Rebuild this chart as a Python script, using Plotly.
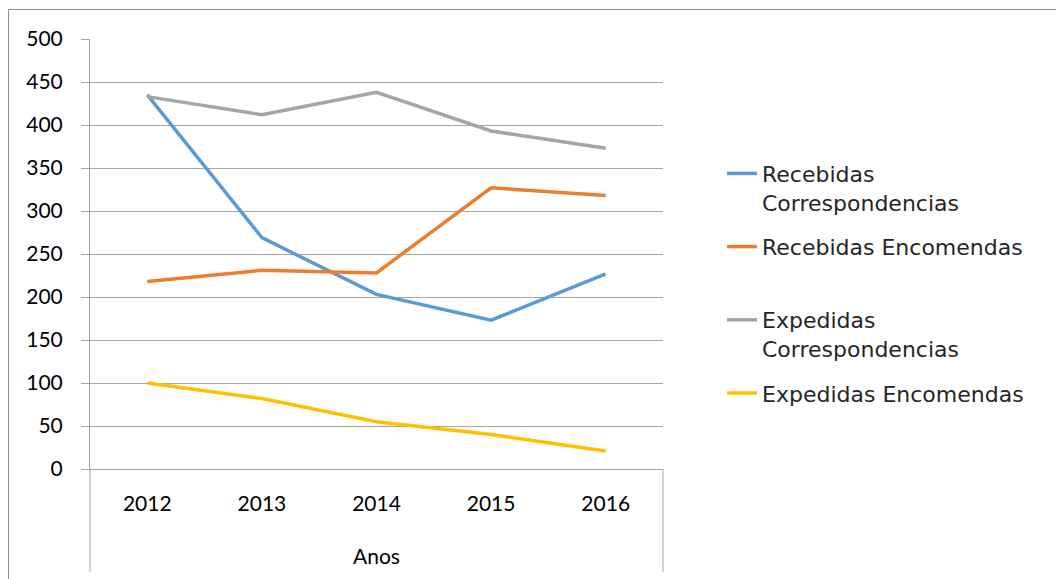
import plotly.graph_objects as go

# Dados
anos = ["2012", "2013", "2014", "2015", "2016"]
recebidas_corresp = [435, 269, 203, 173, 227]
recebidas_encom = [218, 231, 228, 327, 318]
expedidas_corresp = [433, 412, 438, 393, 373]
expedidas_encom = [100, 82, 55, 40, 21]

series = [
    ("<br>Recebidas<br>Correspondencias", recebidas_corresp, "#5B9BD5"),
    ("Recebidas Encomendas", recebidas_encom, "#ED7D31"),
    ("<br>Expedidas<br>Correspondencias", expedidas_corresp, "#A5A5A5"),
    ("Expedidas Encomendas", expedidas_encom, "#FFC000"),
]

grid = "#a6a6a6"
axis_font = dict(family="Lato", size=21, color="#000000")

fig = go.Figure()
for i, (nome, valores, cor) in enumerate(series):
    fig.add_trace(go.Scatter(
        x=anos, y=valores, name=nome, mode="lines",
        line=dict(color=cor, width=3.5),
        legendgroup=f"g{i}",
    ))

# fronteiras entre categorias (traços do eixo)
fronteiras = [i - 0.5 for i in range(len(anos) + 1)]

# a página desloca a figura 8px (margem do body)
OFF = 8
W, H = 1064, 579
ml, mr, mt, mb = 82, 409, 31, 118
pw, ph = W - ml - mr, H - mt - mb

def px_x(px):
    return (px - OFF - ml) / pw

def px_y(py):
    return (H - mb - (py - OFF)) / ph

fig.update_layout(
    width=W, height=H,
    margin=dict(l=ml, r=mr, t=mt, b=mb),
    plot_bgcolor="white", paper_bgcolor="white",
    showlegend=True,
    legend=dict(
        x=px_x(722), y=px_y(124), xanchor="left", yanchor="top",
        font=dict(family="DejaVu Sans", size=22, color="#262626"),
        tracegroupgap=13, bgcolor="rgba(0,0,0,0)",
    ),
    xaxis=dict(
        type="category", categoryarray=anos, range=[-0.5, len(anos) - 0.5],
        showline=True, linecolor=grid, linewidth=1,
        showgrid=False, ticks="", tickfont=axis_font,
        ticklabelstandoff=16,
    ),
    xaxis2=dict(
        overlaying="x", anchor="y", range=[-0.5, len(anos) - 0.5],
        tickmode="array", tickvals=fronteiras, showticklabels=False,
        ticks="outside", ticklen=51, tickcolor=grid, tickwidth=1,
        showgrid=False, zeroline=False, showline=False,
    ),
    yaxis=dict(
        range=[0, 500], dtick=50, tick0=0,
        showgrid=True, gridcolor=grid, gridwidth=1,
        showline=True, linecolor=grid, linewidth=1,
        ticks="outside", ticklen=8, tickcolor=grid, tickwidth=1,
        zeroline=False, tickfont=axis_font, ticklabelstandoff=14,
    ),
    shapes=[
        dict(type="line", xref="paper", yref="paper", x0=0, x1=0,
             y0=0, y1=px_y(572), line=dict(color=grid, width=1)),
        dict(type="line", xref="paper", yref="paper", x0=1, x1=1,
             y0=0, y1=px_y(572), line=dict(color=grid, width=1)),
        dict(type="rect", xref="paper", yref="paper", x0=px_x(8.5), x1=px_x(1100),
             y0=px_y(620), y1=px_y(9.5), line=dict(color="#8c8c8c", width=1),
             fillcolor="rgba(0,0,0,0)", layer="below"),
    ],
    annotations=[
        dict(text="Anos", xref="paper", yref="paper", x=0.5, y=px_y(555),
             xanchor="center", yanchor="middle", showarrow=False, font=axis_font),
    ],
)

fig.write_html("out.html")
